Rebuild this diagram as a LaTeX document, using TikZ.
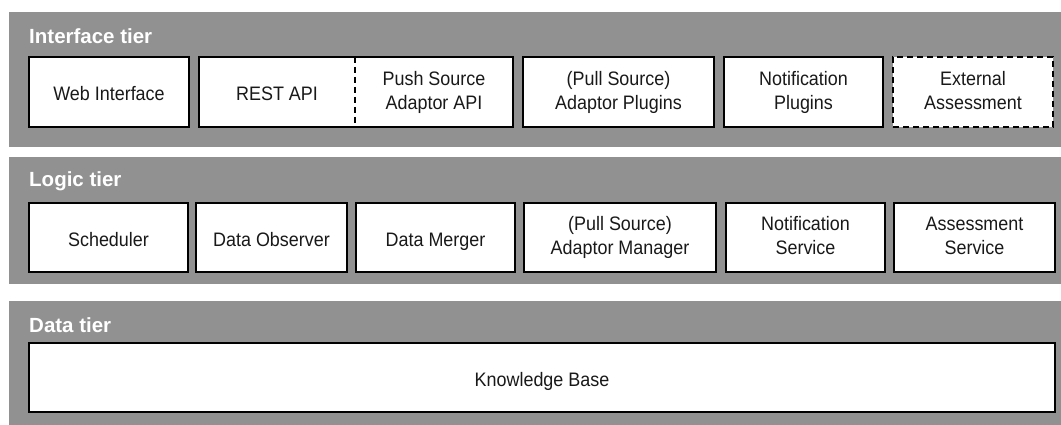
\documentclass[tikz,border=0pt]{standalone}
\usepackage{fontspec}
\setmainfont{Liberation Sans}[FakeStretch=0.92]
\newfontfamily\titlefont{Liberation Sans}
\definecolor{tiergray}{RGB}{145,145,145}
\definecolor{ink}{RGB}{25,25,25}
\newcommand{\topstrut}{\rule{0pt}{22pt}}
\newcommand{\botstrut}{\rule[-4pt]{0pt}{4pt}}
\tikzset{
  x=1pt, y=-1pt,
  tier/.style={fill=tiergray, draw=none, inner sep=0pt, outer sep=0pt, anchor=north west},
  tiertitle/.style={text=white, font=\titlefont\fontsize{20.5}{24}\selectfont\bfseries,
    inner sep=0pt, anchor=base west},
  comp/.style={draw=black, line width=1.7pt, fill=white, inner sep=0pt, outer sep=0pt,
    anchor=north west, minimum height=70pt, align=center, text=ink,
    font=\fontsize{19.5}{24}\selectfont,
    execute at begin node=\topstrut, execute at end node=\botstrut},
  half/.style={comp, draw=none},
  optional/.style={comp, dash pattern=on 6pt off 4pt},
}
\begin{document}
\begin{tikzpicture}
\useasboundingbox (0,0) rectangle (1061,425);

% tier panels
\node[tier, minimum width=1052pt, minimum height=135pt] (t1) at (9,12) {};
\node[tier, minimum width=1052pt, minimum height=127pt] (t2) at (9,157) {};
\node[tier, minimum width=1052pt, minimum height=124pt] (t3) at (9,301) {};

\node[tiertitle] (t1title) at (29,44) {Interface tier};
\node[tiertitle] (t2title) at (29,187) {Logic tier};
\node[tiertitle] (t3title) at (29,332) {Data tier};

% interface tier
\node[comp, minimum width=160pt] (web) at (29,57) {Web Interface};
\node[half, minimum width=156pt] (rest) at (199,57) {REST API};
\node[half, minimum width=158pt] (push) at (355,57) {Push Source\\Adaptor API};
\draw[line width=1.7pt] (rest.north west) rectangle (push.south east);
\draw[line width=1.7pt, dash pattern=on 6pt off 4pt] (rest.north east) -- (rest.south east);
\node[comp, minimum width=191pt] (pullplug) at (523,57) {(Pull Source)\\Adaptor Plugins};
\node[comp, minimum width=159pt] (notifplug) at (724,57) {Notification\\Plugins};
\node[optional, minimum width=160pt] (extassess) at (893,57) {External\\Assessment};

% logic tier
\node[comp, minimum width=159pt, minimum height=69pt] (sched) at (29,203) {Scheduler};
\node[comp, minimum width=151pt, minimum height=69pt] (observer) at (196,203) {Data Observer};
\node[comp, minimum width=159pt, minimum height=69pt] (merger) at (356,203) {Data Merger};
\node[comp, minimum width=192pt, minimum height=69pt] (pullmgr) at (524,203) {(Pull Source)\\Adaptor Manager};
\node[comp, minimum width=159pt, minimum height=69pt] (notifsvc) at (726,203) {Notification\\Service};
\node[comp, minimum width=161pt, minimum height=69pt] (assesssvc) at (894,203) {Assessment\\Service};

% data tier
\node[comp, minimum width=1026pt, minimum height=69pt] (kb) at (29,343) {Knowledge Base};
\end{tikzpicture}
\end{document}
